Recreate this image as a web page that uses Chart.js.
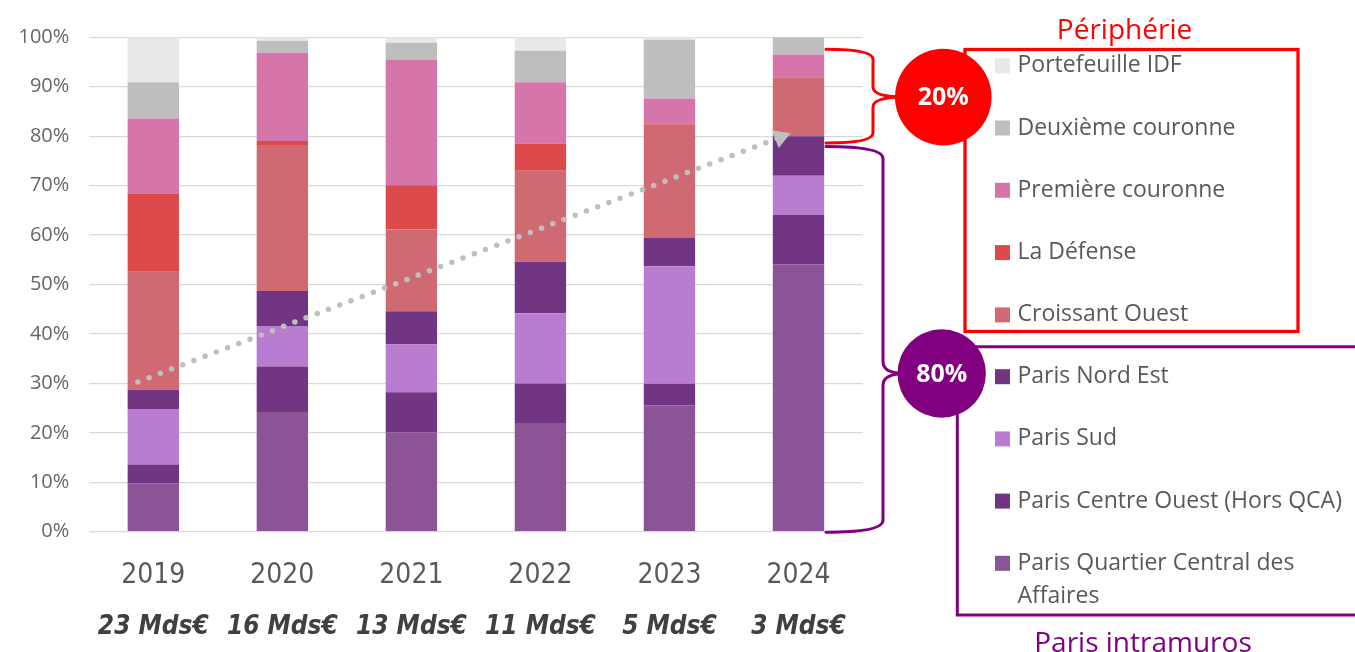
<!DOCTYPE html>
<html lang="fr">
<head>
<meta charset="utf-8">
<title>Répartition géographique des investissements</title>
<script src="https://cdn.jsdelivr.net/npm/chart.js@4.4.1/dist/chart.umd.min.js"></script>
<style>
  html, body { margin: 0; padding: 0; background: #fff; }
  #wrap { width: 1355px; height: 652px; }
</style>
</head>
<body>
<div id="wrap"><canvas id="chart" width="1355" height="652"></canvas></div>
<script>
// Years and total volume invested each year
const years = ["2019", "2020", "2021", "2022", "2023", "2024"];
const volumes = ["23 Mds€", "16 Mds€", "13 Mds€", "11 Mds€", "5 Mds€", "3 Mds€"];

// Share of each area (%), from the bottom of the stack to the top
const parisQCA = [9.8, 24.2, 20.1, 22.0, 25.6, 54.1];
const parisCentreOuest = [3.8, 9.2, 8.1, 8.0, 4.3, 10.0];
const parisSud = [11.2, 8.2, 9.7, 14.2, 23.8, 7.9];
const parisNordEst = [3.9, 7.1, 6.7, 10.4, 5.8, 8.0];
const croissantOuest = [23.9, 29.5, 16.5, 18.4, 22.8, 11.9];
const laDefense = [15.7, 0.8, 9.0, 5.5, 0.2, 0];
const premiereCouronne = [15.3, 17.9, 25.4, 12.4, 5.1, 4.6];
const deuxiemeCouronne = [7.3, 2.4, 3.4, 6.4, 11.9, 3.5];
const portefeuilleIDF = [9.1, 0.7, 1.1, 2.7, 0.5, 0];

// Dotted trend arrow: position along the years (index) and share (%)
const trendX = [-0.12, 4.86];
const trendY = [30.3, 79.8];

// Split shown next to the braces
const shareParis = "80%";
const sharePeripherie = "20%";

const seriesLabels = [
    "Paris Quartier Central des Affaires",
    "Paris Centre Ouest (Hors QCA)",
    "Paris Sud",
    "Paris Nord Est",
    "Croissant Ouest",
    "La Défense",
    "Première couronne",
    "Deuxième couronne",
    "Portefeuille IDF"
];
const seriesValues = [parisQCA, parisCentreOuest, parisSud, parisNordEst,
    croissantOuest, laDefense, premiereCouronne, deuxiemeCouronne, portefeuilleIDF];
const seriesColors = ["#8a5497", "#713584", "#b87dd0", "#713584",
    "#d06a72", "#dc4a4b", "#d675aa", "#bebebe", "#e9e9e9"];
const parisCount = 4; // first four series are inside Paris

const RED = "#ff0000";
const PURPLE = "#800080";
const TEXT = "#595959";
const NARROW = "'DejaVu Sans Condensed', 'Liberation Sans Narrow', Roboto, sans-serif";

const datasets = seriesLabels.map((label, i) => ({
    type: "bar",
    label: label,
    data: seriesValues[i],
    backgroundColor: seriesColors[i],
    borderWidth: 0,
    grouped: false,
    barPercentage: 0.398,
    categoryPercentage: 1.0,
    order: 1
}));

datasets.push({
    type: "line",
    label: "tendance",
    xAxisID: "x2",
    data: trendX.map((x, i) => ({ x: x, y: trendY[i] })),
    stack: "trend",
    borderColor: "#bfbfbf",
    borderWidth: 5.5,
    borderDash: [0, 12],
    borderCapStyle: "round",
    pointRadius: [0, 11],
    pointStyle: "triangle",
    pointRotation: 69,
    pointBackgroundColor: "#bfbfbf",
    pointBorderWidth: 0,
    order: 0
});

// Curly brace from the bars to the share bubble
function drawBrace(ctx, xStart, xSpine, xTip, yTop, yTip, yBottom, r) {
    ctx.beginPath();
    ctx.moveTo(xStart, yTop);
    ctx.quadraticCurveTo(xSpine, yTop, xSpine, yTop + r);
    ctx.lineTo(xSpine, yTip - r);
    ctx.quadraticCurveTo(xSpine, yTip, xTip, yTip);
    ctx.quadraticCurveTo(xSpine, yTip, xSpine, yTip + r);
    ctx.lineTo(xSpine, yBottom - r);
    ctx.quadraticCurveTo(xSpine, yBottom, xStart, yBottom);
    ctx.stroke();
}

function drawBubble(ctx, cx, cy, r, color, text) {
    ctx.beginPath();
    ctx.arc(cx, cy, r, 0, Math.PI * 2);
    ctx.fillStyle = color;
    ctx.fill();
    ctx.fillStyle = "#ffffff";
    ctx.font = "bold 25px 'Open Sans'";
    ctx.textAlign = "center";
    ctx.textBaseline = "middle";
    ctx.fillText(text, cx, cy + 1);
}

function wrapText(ctx, text, maxWidth) {
    const words = text.split(" ");
    const lines = [];
    let line = "";
    words.forEach(w => {
        const test = line ? line + " " + w : w;
        if (ctx.measureText(test).width > maxWidth && line) {
            lines.push(line);
            line = w;
        } else {
            line = test;
        }
    });
    lines.push(line);
    return lines;
}

function drawLegendRows(ctx, indexes, x, yFirst, step) {
    ctx.font = "23px 'Open Sans'";
    ctx.textAlign = "left";
    ctx.textBaseline = "middle";
    indexes.forEach((idx, row) => {
        const y = yFirst + row * step;
        ctx.fillStyle = seriesColors[idx];
        ctx.fillRect(x, y - 7.5, 15, 15);
        ctx.fillStyle = TEXT;
        const lines = wrapText(ctx, seriesLabels[idx], 345);
        lines.forEach((l, k) => ctx.fillText(l, x + 22.5, y + k * 33.4));
    });
}

const annotations = {
    id: "annotations",
    afterDraw(chart) {
        const ctx = chart.ctx;
        const xs = chart.scales.x;
        const ys = chart.scales.y;
        const barRight = xs.getPixelForValue(years.length - 1) + 27.5;
        ctx.save();

        // totals under the years
        ctx.font = "italic bold 26px " + NARROW;
        ctx.fillStyle = "#404040";
        ctx.textAlign = "center";
        ctx.textBaseline = "alphabetic";
        volumes.forEach((v, i) => ctx.fillText(v, xs.getPixelForValue(i), 633.5));

        // braces
        ctx.lineWidth = 3;
        ctx.lineCap = "round";
        ctx.strokeStyle = RED;
        drawBrace(ctx, barRight, 873, 905, ys.getPixelForValue(97.6), ys.getPixelForValue(87.9), ys.getPixelForValue(78.6), 10);
        ctx.strokeStyle = PURPLE;
        drawBrace(ctx, barRight, 883, 905, ys.getPixelForValue(77.9), ys.getPixelForValue(32.0), ys.getPixelForValue(-0.1), 12);

        // legend frames
        ctx.lineCap = "butt";
        ctx.lineWidth = 3.3;
        ctx.strokeStyle = RED;
        ctx.strokeRect(965, 49.5, 333, 282);
        ctx.lineWidth = 3;
        ctx.strokeStyle = PURPLE;
        ctx.beginPath();
        ctx.moveTo(1360, 346.7);
        ctx.lineTo(957.3, 346.7);
        ctx.lineTo(957.3, 615);
        ctx.lineTo(1360, 615);
        ctx.stroke();

        // group titles
        ctx.font = "28px 'Open Sans'";
        ctx.textAlign = "center";
        ctx.textBaseline = "alphabetic";
        ctx.fillStyle = RED;
        ctx.fillText("Périphérie", 1124.5, 38.5);
        ctx.fillStyle = PURPLE;
        ctx.fillText("Paris intramuros", 1143, 651.5);

        // legend entries, top of the stack first
        const periph = [];
        for (let i = seriesLabels.length - 1; i >= parisCount; i--) periph.push(i);
        const paris = [];
        for (let i = parisCount - 1; i >= 0; i--) paris.push(i);
        drawLegendRows(ctx, periph, 995, 65.7, 62.3);
        drawLegendRows(ctx, paris, 995, 376.7, 62.2);

        // share bubbles
        drawBubble(ctx, 943.3, ys.getPixelForValue(87.9), 48.3, RED, sharePeripherie);
        drawBubble(ctx, 941.7, ys.getPixelForValue(32.0), 44.2, PURPLE, shareParis);

        ctx.restore();
    }
};

new Chart(document.getElementById("chart"), {
    data: { labels: years, datasets: datasets },
    options: {
        responsive: false,
        animation: false,
        layout: { padding: { top: 37.3, right: 492, bottom: 0, left: 0 } },
        plugins: {
            legend: { display: false },
            tooltip: { enabled: false }
        },
        scales: {
            x: {
                stacked: true,
                grid: { display: false },
                border: { display: false },
                ticks: {
                    color: TEXT,
                    padding: 19,
                    font: { family: NARROW, size: 28 }
                },
                afterFit: s => { s.height = 120.3; }
            },
            x2: {
                type: "linear",
                display: false,
                min: -0.5,
                max: years.length - 0.5
            },
            y: {
                stacked: true,
                min: 0,
                max: 100,
                ticks: {
                    stepSize: 10,
                    color: "#666666",
                    padding: 19.5,
                    font: { family: "'Open Sans'", size: 20 },
                    callback: v => v + "%"
                },
                grid: { color: "#d9d9d9", lineWidth: 1.2, drawTicks: false },
                border: { display: false },
                afterFit: s => { s.width = 88.8; }
            }
        }
    },
    plugins: [annotations]
});
</script>
</body>
</html>
